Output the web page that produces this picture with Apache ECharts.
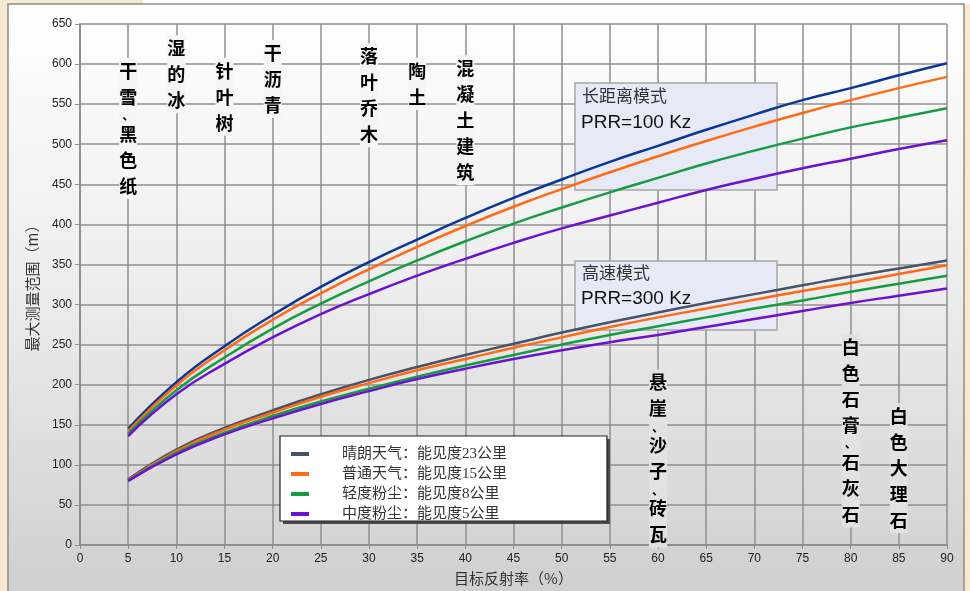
<!DOCTYPE html>
<html>
<head>
<meta charset="utf-8">
<script src="https://cdn.jsdelivr.net/npm/echarts@6/dist/echarts.min.js"></script>
<style>
  html, body { margin: 0; padding: 0; background: #f8e9d0; }
  #main { width: 970px; height: 591px; }
</style>
</head>
<body>
<div id="main"></div>
<script>
// reflectivity (%) on the x axis
const reflect = [5, 10, 15, 20, 25, 30, 35, 40, 45, 50, 55, 60, 65, 70, 75, 80, 85, 90];

// long distance mode, PRR = 100 kHz
const long23 = [145, 203, 248, 287, 322, 353, 381, 408, 433, 456, 478, 498, 518, 537, 555, 570, 586, 601];
const long15 = [142, 199, 243, 281, 314, 344, 372, 398, 422, 444, 465, 485, 504, 522, 539, 555, 570, 584];
const long8  = [139, 193, 234, 270, 301, 329, 355, 379, 401, 421, 440, 458, 476, 492, 507, 521, 533, 545];
const long5  = [136, 188, 226, 259, 288, 313, 336, 357, 377, 395, 411, 427, 443, 457, 470, 482, 494, 505];

// high speed mode, PRR = 300 kHz
const fast23 = [82, 119, 146, 168, 188, 206, 222, 237, 251, 265, 278, 290, 302, 313, 324, 335, 345, 355];
const fast15 = [81, 117, 144, 165, 185, 202, 218, 232, 246, 259, 272, 284, 295, 306, 317, 327, 338, 349];
const fast8  = [80, 115, 140, 161, 179, 195, 210, 224, 237, 250, 262, 273, 284, 295, 305, 316, 326, 336];
const fast5  = [80, 113, 138, 158, 176, 192, 207, 220, 232, 243, 253, 262, 272, 282, 292, 302, 311, 320];

const weatherNames = ['晴朗天气：能见度23公里', '普通天气：能见度15公里', '轻度粉尘：能见度8公里', '中度粉尘：能见度5公里'];

// materials marked at their typical reflectivity; top given in metres on the y axis
const materials = ['干雪、黑色纸', '湿的冰', '针叶树', '干沥青', '落叶乔木', '陶土', '混凝土建筑', '悬崖、沙子、砖瓦', '白色石膏、石灰石', '白色大理石'];
const materialAt = [5, 10, 15, 20, 30, 35, 40, 60, 80, 85];
const materialTop = [608, 636, 608, 630, 626, 608, 611, 219, 263, 177];

const colors = ['#44546a', '#ff6a13', '#169c40', '#6a12d0'];
const longColors = ['#0a3797', '#ff6a13', '#169c40', '#6a12d0'];

const pairs = (ys) => reflect.map((x, i) => [x, ys[i]]);

const chart = echarts.init(document.getElementById('main'));

const series = [];
[long23, long15, long8, long5].forEach((d, i) => {
  series.push({
    name: weatherNames[i], type: 'line', data: pairs(d), smooth: true, showSymbol: false,
    lineStyle: { width: 2.5, color: longColors[i] }, itemStyle: { color: longColors[i] }, z: 3
  });
});
[fast23, fast15, fast8, fast5].forEach((d, i) => {
  series.push({
    name: weatherNames[i], type: 'line', data: pairs(d), smooth: true, showSymbol: false,
    lineStyle: { width: 2.5, color: colors[i] }, itemStyle: { color: colors[i] }, z: 3
  });
});

const gridLine = { show: true, lineStyle: { color: '#8f8f8f', width: 1.5 } };

chart.setOption({
  backgroundColor: '#f8e9d0',
  animation: false,
  grid: { left: 80, right: 23, top: 24, bottom: 45 },
  xAxis: {
    type: 'value', min: 0, max: 90, interval: 5,
    name: '目标反射率（%）', nameLocation: 'middle', nameGap: 26,
    nameTextStyle: { fontSize: 15, color: '#333', fontFamily: 'Noto Sans CJK SC' },
    axisLine: { lineStyle: { color: '#8f8f8f', width: 2 } },
    axisTick: { show: true, length: 4, lineStyle: { color: '#8f8f8f' } },
    axisLabel: { fontSize: 12, color: '#222', margin: 8, fontFamily: '"Liberation Sans Narrow", "Liberation Sans", sans-serif' },
    splitLine: gridLine
  },
  yAxis: {
    type: 'value', min: 0, max: 650, interval: 50,
    name: '最大测量范围（m）', nameLocation: 'middle', nameGap: 40, nameRotate: 90,
    nameTextStyle: { fontSize: 15, color: '#333', fontFamily: 'Noto Sans CJK SC' },
    axisLine: { show: true, lineStyle: { color: '#8f8f8f', width: 2 } },
    axisTick: { show: true, length: 5, lineStyle: { color: '#8f8f8f' } },
    axisLabel: { fontSize: 12, color: '#222', margin: 8, fontFamily: '"Liberation Sans", Arial, sans-serif' },
    splitLine: gridLine
  },
  legend: {
    orient: 'vertical', left: 286, top: 441, z: 200,
    selectedMode: false, icon: 'rect', itemWidth: 18, itemHeight: 4, itemGap: 4,
    data: weatherNames.map((n, i) => ({ name: n, itemStyle: { color: colors[i] } })),
    textStyle: { fontSize: 15, color: '#333', lineHeight: 16, padding: [0, 0, 0, 28],
      fontFamily: '"Liberation Serif", "Noto Sans CJK SC", serif' }
  },
  series
});

function vertical(str) {
  return str.split('').map(ch => ch === '、' ? '{p|、}' : '{c|' + ch + '}').join('\n');
}

const graphics = [
  { type: 'rect', z: -100, shape: { x: 143, y: 0, width: 827, height: 4 }, style: { fill: '#ffffff' } },
  { type: 'rect', z: -100, shape: { x: 8, y: 4, width: 956, height: 590 },
    style: { fill: new echarts.graphic.LinearGradient(0, 0, 0, 1, [
      { offset: 0, color: '#ffffff' }, { offset: 0.5, color: '#ececec' }, { offset: 1, color: '#cfcfcf' }]),
      stroke: '#8c8c8c', lineWidth: 1.5 } },
  // mode boxes (behind the curves)
  { type: 'rect', z: 1, shape: { x: 575, y: 83, width: 202, height: 107 },
    style: { fill: '#e8e9f7', stroke: '#a6a6a6', lineWidth: 1.5 } },
  { type: 'text', z: 1, x: 582, y: 87, style: { text: '长距离模式', font: '17px "Noto Sans CJK SC"', fill: '#333' } },
  { type: 'text', z: 1, x: 581, y: 113, style: { text: 'PRR=100 Kz', font: '19px "Liberation Sans", Arial', fill: '#111' } },
  { type: 'rect', z: 1, shape: { x: 575, y: 261, width: 202, height: 69 },
    style: { fill: '#e8e9f7', stroke: '#a6a6a6', lineWidth: 1.5 } },
  { type: 'text', z: 1, x: 582, y: 264, style: { text: '高速模式', font: '17px "Noto Sans CJK SC"', fill: '#333' } },
  { type: 'text', z: 1, x: 581, y: 289, style: { text: 'PRR=300 Kz', font: '19px "Liberation Sans", Arial', fill: '#111' } },
  // legend frame with a hard drop shadow
  { type: 'rect', z: 149, shape: { x: 283, y: 439, width: 327, height: 85 }, style: { fill: '#4a4a4a' } },
  { type: 'rect', z: 150, shape: { x: 280, y: 436, width: 327, height: 85 },
    style: { fill: '#ffffff', stroke: '#222', lineWidth: 1.2 } }
];

materials.forEach((m, i) => {
  const p = chart.convertToPixel({ gridIndex: 0 }, [materialAt[i], materialTop[i]]);
  graphics.push({
    type: 'text', z: 1, x: p[0], y: p[1],
    style: {
      text: vertical(m), align: 'center', verticalAlign: 'top',
      backgroundColor: p[1] < 250 ? '#f5f5f5' : '#e2e2e2',
      rich: {
        c: { font: 'bold 18px "Noto Sans CJK SC"', fill: '#000', lineHeight: 26 },
        p: { font: 'bold 12px "Noto Sans CJK SC"', fill: '#000', lineHeight: 11 }
      }
    }
  });
});

chart.setOption({ graphic: graphics });
</script>
</body>
</html>
